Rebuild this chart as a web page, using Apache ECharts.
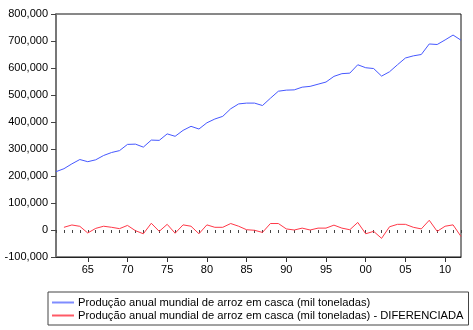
<!DOCTYPE html>
<html>
<head>
<meta charset="utf-8">
<script src="https://cdn.jsdelivr.net/npm/echarts@6/dist/echarts.min.js"></script>
<style>html,body{margin:0;padding:0;background:#fff}#c{width:473px;height:330px}</style>
</head>
<body>
<div id="c"></div>
<script>
const years = [];
for (let y = 1961; y <= 2012; y++) years.push(y);
const production = [216000,227000,245000,261000,253000,260000,276000,287000,294000,317000,
  318000,307000,333000,332000,356000,347000,369000,384000,374000,397000,
  411000,421000,449000,467000,470000,470000,461000,488000,514000,518000,
  519000,529000,532000,540000,548000,569000,579000,581000,612000,601000,
  598000,570000,586000,612000,637000,645000,650000,689000,687000,704000,
  722000,703000];
const differenced = [10000,18600,13600,-11000,6000,14000,10000,5000,17000,-2500,
  -14000,25000,-5000,21000,-12000,19000,14000,-14000,19000,10000,
  10000,24000,14000,1000,-1000,-9000,24000,24000,4000,0,
  7000,0,7000,7000,18000,7000,1000,28000,-14000,-5000,
  -31000,12000,21000,21000,10000,4000,36000,-5000,14000,19000,
  -24000];
const majorTicks = [1965,1970,1975,1980,1985,1990,1995,2000,2005,2010];
const seriesNames = ['Produção anual mundial de arroz em casca (mil toneladas)',
  'Produção anual mundial de arroz em casca (mil toneladas) - DIFERENCIADA'];

const font = 'Liberation Sans, Arial, sans-serif';
const chart = echarts.init(document.getElementById('c'), null, {renderer: 'canvas'});
chart.setOption({
  animation: false,
  backgroundColor: '#fff',
  grid: {left: 56, right: 12, top: 14, bottom: 73, show: true, borderColor: '#111', borderWidth: 1, backgroundColor: 'transparent'},
  xAxis: [{
    type: 'value', min: 1961, max: 2012,
    axisLine: {show: true, onZero: false, lineStyle: {color: '#222', width: 1}},
    axisTick: {show: true, customValues: majorTicks, length: 5, lineStyle: {color: '#333'}},
    axisLabel: {customValues: majorTicks, margin: 7, fontFamily: font, fontSize: 11, color: '#000',
      formatter: v => String(v).slice(2)},
    splitLine: {show: false}
  }, {
    type: 'value', min: 1961, max: 2012, position: 'bottom',
    axisLine: {show: false},
    axisTick: {show: true, customValues: years, length: 3, lineStyle: {color: '#444'}},
    axisLabel: {show: false},
    splitLine: {show: false}
  }],
  yAxis: {
    type: 'value', min: -100000, max: 800000, interval: 100000,
    axisLine: {show: true, onZero: false, lineStyle: {color: '#777', width: 2}},
    axisTick: {show: true, length: 5, lineStyle: {color: '#444'}},
    axisLabel: {margin: 8, fontFamily: font, fontSize: 11, color: '#000',
      formatter: v => v.toLocaleString('en-US')},
    splitLine: {show: false}
  },
  legend: {
    orient: 'vertical', left: 48, top: 292, itemWidth: 22, itemHeight: 2, itemGap: 0,
    icon: 'rect',
    padding: [4, 5, 3, 4], borderColor: '#444', borderWidth: 1,
    textStyle: {fontFamily: font, fontSize: 11.2, color: '#000', lineHeight: 13, padding: [0,0,0,-1]},
    data: seriesNames
  },
  series: [{
    name: seriesNames[0], type: 'line', xAxisIndex: 0, showSymbol: false, symbol: 'none',
    lineStyle: {color: '#4658ff', width: 1}, itemStyle: {color: '#7f8cff'},
    data: years.map((y, i) => [y, production[i]])
  }, {
    name: seriesNames[1], type: 'line', xAxisIndex: 0, showSymbol: false, symbol: 'none',
    lineStyle: {color: '#ff3848', width: 1}, itemStyle: {color: '#ff5a66'},
    data: years.slice(1).map((y, i) => [y, differenced[i]])
  }]
});
</script>
</body>
</html>
